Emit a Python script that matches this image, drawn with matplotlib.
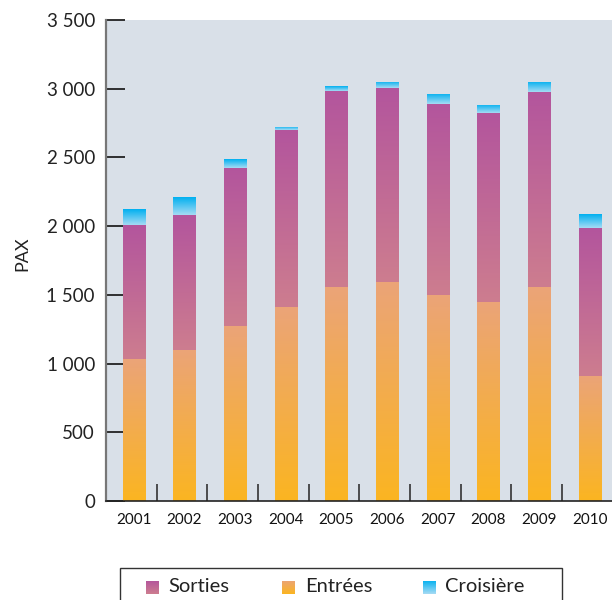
import matplotlib
matplotlib.use('Agg')
import matplotlib.pyplot as plt
import matplotlib.ticker as ticker
from matplotlib.colors import LinearSegmentedColormap
from matplotlib.patches import Rectangle
import numpy as np

plt.rcParams['font.family'] = ['Lato', 'DejaVu Sans']

years = ['2001', '2002', '2003', '2004', '2005', '2006', '2007', '2008', '2009', '2010']
entrees = [1030, 1100, 1270, 1410, 1555, 1590, 1500, 1450, 1555, 910]
sorties = [980, 980, 1150, 1290, 1430, 1415, 1390, 1375, 1420, 1075]
croisiere = [115, 130, 65, 22, 35, 45, 75, 60, 75, 100]

labels = ['Sorties', 'Entrées', 'Croisière']
# top colour, bottom colour for each series
grad = {
    'Sorties': ('#b3559d', '#cd7d8f'),
    'Entrées': ('#eba478', '#fbb521'),
    'Croisière': ('#00b0f0', '#a6dbf4'),
}

bg = '#d9e0e8'

fig = plt.figure(figsize=(6.12, 6.0), dpi=100)
ax = fig.add_axes([106 / 612, 1 - 501 / 600, 1 - 106 / 612, (501 - 20) / 600])
ax.set_facecolor(bg)

x = np.arange(len(years))
width = 0.435


def gradient_fill(target, bars, name):
    top, bottom = grad[name]
    cmap = LinearSegmentedColormap.from_list(name, [bottom, top])
    g = np.linspace(0, 1, 256).reshape(-1, 1)
    for b in bars:
        x0, y0 = b.get_x(), b.get_y()
        w, h = b.get_width(), b.get_height()
        im = target.imshow(g, cmap=cmap, origin='lower', aspect='auto',
                           extent=(x0, x0 + w, y0, y0 + h), zorder=2)
        im.set_clip_path(b)


b1 = ax.bar(x, entrees, width, color='none', linewidth=0)
gradient_fill(ax, b1, 'Entrées')
bottom2 = np.array(entrees)
b2 = ax.bar(x, sorties, width, bottom=bottom2, color='none', linewidth=0)
gradient_fill(ax, b2, 'Sorties')
bottom3 = bottom2 + np.array(sorties)
b3 = ax.bar(x, croisiere, width, bottom=bottom3, color='none', linewidth=0)
gradient_fill(ax, b3, 'Croisière')

ax.set_xlim(-0.55, len(years) - 0.56)
ax.set_ylim(0, 3500)

ax.set_yticks(np.arange(0, 3501, 500))
ax.yaxis.set_major_formatter(ticker.FuncFormatter(lambda v, p: '{:,}'.format(int(v)).replace(',', ' ')))
ax.tick_params(axis='y', direction='in', length=14, width=1.3, color='#222222',
               labelsize=13.5, pad=8, labelcolor='#222222')

ax.set_xticks(x)
ax.set_xticklabels(years)
ax.tick_params(axis='x', which='major', length=0, labelsize=11, pad=9, labelcolor='#111111')
ax.set_xticks(x[:-1] + 0.45, minor=True)
ax.tick_params(axis='x', which='minor', direction='in', length=12, width=1.2, color='#333333')

for s in ['top', 'right']:
    ax.spines[s].set_visible(False)
ax.spines['left'].set_color('#777777')
ax.spines['left'].set_linewidth(1.6)
ax.spines['bottom'].set_color('#222222')
ax.spines['bottom'].set_linewidth(1.2)

ax.set_ylabel('PAX', fontsize=13, color='#222222')
ax.yaxis.set_label_coords(-0.15, 0.515)

# legend box drawn by hand so the swatches can carry the gradients
fig.patches.append(Rectangle((120 / 612, -0.01), (562 - 120) / 612, (0.01 + 32 / 600),
                             transform=fig.transFigure, facecolor='white',
                             edgecolor='#333333', linewidth=1.0, zorder=-1))
items = [(146, 168), (282, 305), (423, 445)]
g = np.linspace(0, 1, 64).reshape(-1, 1)
for name, (sx, tx) in zip(labels, items):
    top, bottom = grad[name]
    cmap = LinearSegmentedColormap.from_list(name + '_leg', [bottom, top])
    sw = fig.add_axes([sx / 612, 1 - 594 / 600, 13 / 612, 13 / 600])
    sw.imshow(g, cmap=cmap, origin='lower', aspect='auto')
    sw.set_zorder(5)
    sw.axis('off')
    fig.text(tx / 612, 1 - 587 / 600, name, fontsize=14.5, color='#222222',
             va='center', ha='left', zorder=6)

fig.savefig('out.png', dpi=100)
